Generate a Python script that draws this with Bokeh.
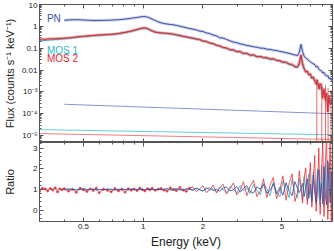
from bokeh.plotting import figure
from bokeh.layouts import column
from bokeh.models import FixedTicker, LogAxis, LinearAxis, Range1d, ColumnDataSource
from bokeh.core.properties import value
from bokeh.embed import file_html
from bokeh.resources import INLINE

nan = float("nan")

# ---------------- data ----------------
energy = [
    0.30, 0.31, 0.32, 0.33, 0.34, 0.35, 0.36, 0.37, 0.38, 0.39,
    0.40, 0.42, 0.44, 0.46, 0.48, 0.50, 0.52, 0.54, 0.56, 0.58,
    0.60, 0.63, 0.66, 0.69, 0.72, 0.75, 0.78, 0.81, 0.84, 0.87,
    0.90, 0.93, 0.96, 0.99, 1.02, 1.05, 1.08, 1.11, 1.15, 1.19,
    1.23, 1.27, 1.32, 1.37, 1.42, 1.47, 1.53, 1.59, 1.65, 1.71,
    1.78, 1.85, 1.92, 2.00, 2.08, 2.16, 2.25, 2.34, 2.43, 2.53,
    2.63, 2.74, 2.85, 2.96, 3.08, 3.20, 3.33, 3.46, 3.60, 3.74,
    3.89, 4.04, 4.20, 4.36, 4.53, 4.70, 4.88, 5.06, 5.25, 5.44,
    5.63, 5.82, 6.00, 6.12, 6.24, 6.36, 6.48, 6.60, 6.72, 6.84,
    6.96, 7.08, 7.20, 7.32, 7.44, 7.56, 7.68, 7.80, 7.92, 8.04,
    8.16, 8.28, 8.40, 8.52, 8.64, 8.76, 8.88, 8.98,
]

pn_flux = [
    nan, nan, nan, nan, nan, nan, nan, nan, nan, nan,
    1.90, 1.95, 2.00, 2.02, 1.98, 1.95, 1.92, 1.88, 1.86, 1.85,
    1.86, 1.88, 1.90, 1.93, 1.97, 2.02, 2.08, 2.15, 2.24, 2.35,
    2.45, 2.55, 2.68, 2.78, 2.80, 2.65, 2.40, 2.15, 1.85, 1.62,
    1.45, 1.35, 1.28, 1.22, 1.18, 1.10, 1.02, 0.93, 0.86, 0.80,
    0.74, 0.69, 0.61, 0.58, 0.50, 0.47, 0.40, 0.37, 0.30, 0.29,
    0.25, 0.218, 0.19, 0.178, 0.158, 0.148, 0.133, 0.127, 0.115, 0.111,
    0.101, 0.099, 0.090, 0.088, 0.081, 0.078, 0.071, 0.068, 0.062, 0.058,
    0.053, 0.049, 0.046, 0.064, 0.15, 0.070, 0.043, 0.035, 0.031, 0.027,
    0.024, 0.021, 0.019, 0.018, 0.0135, 0.015, 0.0108, 0.0098, 0.0092, 0.0072,
    0.0078, 0.0058, 0.0052, 0.0057, 0.0040, 0.0043, 0.0034, 0.0041,
]

mos1_flux = [
    0.22, 0.225, 0.23, 0.235, 0.24, 0.245, 0.25, 0.255, 0.26, 0.265,
    0.27, 0.285, 0.30, 0.315, 0.33, 0.34, 0.355, 0.365, 0.375, 0.385,
    0.395, 0.405, 0.415, 0.425, 0.44, 0.46, 0.49, 0.52, 0.56, 0.60,
    0.65, 0.70, 0.76, 0.80, 0.82, 0.77, 0.68, 0.60, 0.54, 0.51,
    0.49, 0.48, 0.47, 0.45, 0.43, 0.40, 0.37, 0.345, 0.325, 0.30,
    0.28, 0.26, 0.245, 0.21, 0.20, 0.172, 0.158, 0.135, 0.124, 0.106,
    0.10, 0.083, 0.081, 0.069, 0.068, 0.056, 0.057, 0.047, 0.048, 0.040,
    0.041, 0.036, 0.035, 0.031, 0.032, 0.027, 0.026, 0.022, 0.022, 0.018,
    0.017, 0.0135, 0.014, 0.019, 0.045, 0.019, 0.011, 0.0085, 0.0085, 0.0062,
    0.006, 0.0042, 0.0047, 0.0032, 0.0033, 0.002, 0.0024, 0.0014, 0.0018, 0.0008,
    0.001, 0.0005, 0.0008, 0.0003, 0.0005, 0.0003, 0.0004, 0.0003,
]

mos2_flux = [
    0.25, 0.26, 0.255, 0.265, 0.27, 0.268, 0.275, 0.28, 0.278, 0.285,
    0.29, 0.30, 0.31, 0.325, 0.34, 0.35, 0.365, 0.375, 0.385, 0.395,
    0.405, 0.415, 0.425, 0.435, 0.45, 0.47, 0.50, 0.53, 0.57, 0.61,
    0.66, 0.72, 0.78, 0.83, 0.85, 0.80, 0.70, 0.62, 0.55, 0.52,
    0.50, 0.49, 0.48, 0.46, 0.44, 0.41, 0.38, 0.35, 0.33, 0.31,
    0.29, 0.265, 0.25, 0.215, 0.205, 0.175, 0.162, 0.137, 0.128, 0.108,
    0.102, 0.085, 0.084, 0.070, 0.070, 0.058, 0.059, 0.048, 0.050, 0.041,
    0.042, 0.037, 0.037, 0.032, 0.033, 0.028, 0.027, 0.023, 0.023, 0.019,
    0.018, 0.0145, 0.0135, 0.021, 0.050, 0.019, 0.0115, 0.0078, 0.0092, 0.0058,
    0.0068, 0.0041, 0.0049, 0.0032, 0.0022, 0.0035, 0.0013, 0.0024, 0.0017, 0.0005,
    0.0014, 0.0004, 0.0009, 0.00012, 0.0007, 0.00025, 0.0003, 0.0005,
]

pn_ratio = [
    nan, nan, nan, nan, nan, nan, nan, nan, nan, nan,
    0.98, 1.03, 1.01, 0.97, 1.02, 1.04, 0.99, 1.00, 1.03, 0.98,
    1.00, 0.98, 1.02, 1.01, 0.97, 1.00, 1.03, 0.99, 0.98, 1.02,
    1.01, 0.99, 1.02, 1.00, 0.98, 1.01, 1.03, 0.99, 1.00, 1.02,
    0.98, 1.01, 1.04, 0.99, 0.97, 1.03, 1.00, 0.96, 1.05, 1.01,
    0.97, 1.06, 0.99, 0.94, 1.04, 1.08, 0.95, 1.02, 0.91, 1.07,
    1.12, 0.93, 0.98, 1.15, 0.87, 1.05, 1.18, 0.90, 0.84, 1.13,
    1.02, 1.24, 0.83, 0.95, 1.28, 0.79, 1.10, 0.72, 1.33, 0.92,
    0.70, 1.38, 1.05, 0.85, 1.02, 1.30, 0.66, 1.15, 1.52, 0.58,
    1.25, 0.45, 1.70, 0.88, 0.38, 1.60, 1.95, 0.52, 1.30, 0.30,
    2.10, 0.75, 0.25, 2.40, 1.20, 0.35, 1.85, 0.60,
]

mos1_ratio = [
    1.03, 1.02, 1.04, 1.02, 1.03, 1.04, 1.02, 1.03, 1.01, 1.02,
    1.00, 1.02, 0.99, 1.01, 0.98, 1.02, 1.00, 0.99, 1.01, 0.98,
    1.01, 0.97, 1.02, 0.99, 1.00, 1.02, 0.98, 1.01, 0.99, 1.02,
    0.99, 1.01, 0.98, 1.02, 1.00, 1.01, 0.99, 1.02, 0.98, 1.01,
    1.02, 0.98, 1.04, 0.97, 1.01, 1.05, 0.96, 1.02, 0.99, 1.04,
    0.95, 1.07, 1.00, 0.91, 1.10, 0.96, 1.04, 0.88, 1.12, 0.99,
    0.86, 1.15, 1.02, 0.82, 1.20, 0.93, 1.08, 0.79, 1.24, 0.97,
    0.74, 1.30, 1.05, 0.69, 1.36, 0.90, 0.64, 1.40, 1.10, 0.60,
    1.48, 0.85, 0.58, 1.52, 1.05, 0.50, 1.62, 1.00, 0.44, 1.75,
    0.95, 0.36, 1.85, 1.20, 0.30, 2.00, 0.70, 0.22, 2.15, 1.10,
    0.15, 2.25, 0.80, 0.12, 2.30, 1.00, 0.10, 2.00,
]

mos2_ratio = [
    0.90, 1.06, 1.02, 0.93, 1.05, 0.97, 1.08, 0.88, 1.03, 0.99,
    1.04, 0.92, 1.01, 0.86, 1.06, 0.98, 0.90, 1.03, 0.95, 1.07,
    0.84, 1.02, 0.96, 0.89, 1.05, 0.93, 1.01, 0.87, 1.04, 0.97,
    1.02, 0.95, 1.07, 0.99, 0.93, 1.04, 0.98, 1.06, 0.96, 1.01,
    1.05, 0.97, 0.92, 1.08, 1.00, 0.94, 1.10, 0.97, 0.91, 1.06,
    1.13, 0.90, 1.02, 1.18, 0.85, 0.97, 1.21, 0.83, 1.08, 1.25,
    0.78, 1.05, 1.32, 0.74, 0.96, 1.38, 0.70, 1.15, 1.44, 0.66,
    0.92, 1.52, 0.61, 1.20, 1.58, 0.55, 0.98, 1.66, 0.48, 1.30,
    1.75, 0.42, 0.88, 1.90, 1.15, 0.35, 1.60, 2.05, 0.28, 1.20,
    2.30, 0.15, 1.40, 2.65, -0.05, 0.90, 3.00, -0.20, 1.70, 3.40,
    -0.30, 2.20, 3.70, -0.45, 1.10, 3.60, -0.55, 3.50,
]

# background model lines (power laws, two end points each)
pn_bkg_energy = [0.40, 9.0]
pn_bkg = [2.7e-4, 1.0e-4]
mos_bkg_energy = [0.30, 9.0]
mos1_bkg = [1.87e-5, 1.08e-5]
mos2_bkg = [1.23e-5, 6.6e-6]

# MOS 2 channels whose lower error bar reaches zero
drop_energy = [7.50, 7.95, 8.30, 8.55, 8.85]
drop_top = [0.004, 0.0025, 0.002, 0.0015, 0.0012]
drop_bottom = [1e-9, 1e-9, 1e-9, 1e-9, 1e-9]

series_names = ["PN", "MOS 1", "MOS 2"]
legend_energy = [0.327, 0.327, 0.327]
legend_flux = [2.3, 0.081, 0.032]

flux_ticks = [1e-5, 1e-4, 1e-3, 0.01, 0.1, 1.0, 10.0]
flux_tick_labels = ["10⁻⁵", "10⁻⁴", "10⁻³", "0.01", "0.1", "1", "10"]
ratio_ticks = [0, 1, 2, 3]
energy_ticks = [0.5, 1, 2, 5]
energy_tick_labels = ["0.5", "1", "2", "5"]

# ---------------- styling ----------------
PN_C = "#3b4ea6"
M1_C = "#2bb8c8"
M2_C = "#e8262e"
AX_C = "#555555"
FONT = "Liberation Sans"

flux_minor = [m * 10.0 ** k for k in range(-6, 1) for m in range(2, 10)]
ratio_minor = [v / 5.0 for v in range(-3, 17) if v % 5 != 0]
energy_minor = [0.3, 0.4, 0.6, 0.7, 0.8, 0.9, 3, 4, 6, 7, 8, 9]

x_rng = Range1d(0.3, 9.0)


def style_axis(ax, ticker, show=True, overrides=None):
    ax.ticker = ticker
    ax.major_tick_in = 4
    ax.major_tick_out = 0
    ax.minor_tick_in = 2
    ax.minor_tick_out = 0
    ax.axis_line_color = AX_C
    ax.major_tick_line_color = AX_C
    ax.minor_tick_line_color = AX_C
    ax.major_label_text_font = FONT
    ax.major_label_text_color = "#222222"
    ax.axis_label_text_font = FONT
    ax.axis_label_text_font_style = "normal"
    ax.axis_label_text_color = "#222222"
    if show:
        ax.major_label_text_font_size = "8px"
        ax.major_label_standoff = 2
        if overrides:
            ax.major_label_overrides = overrides
    else:
        ax.major_label_text_font_size = "1px"
        ax.major_label_text_alpha = 0
        ax.major_label_standoff = 0


# ---------------- top panel: flux ----------------
p1 = figure(width=334, height=142, x_axis_type="log", y_axis_type="log",
            x_range=x_rng, y_range=Range1d(4.8e-6, 10.0),
            output_backend="svg", toolbar_location=None,
            min_border_left=35, min_border_right=2, min_border_top=4,
            min_border_bottom=0)
p1.grid.visible = False
p1.outline_line_color = AX_C

fx_ticker = FixedTicker(ticks=flux_ticks, minor_ticks=flux_minor)
e_ticker = FixedTicker(ticks=energy_ticks, minor_ticks=energy_minor)

style_axis(p1.yaxis[0], fx_ticker, True,
           dict(zip(flux_ticks, flux_tick_labels)))
p1.yaxis[0].axis_label = "Flux (counts s⁻¹ keV⁻¹)"
p1.yaxis[0].axis_label_text_font_size = "11px"
p1.yaxis[0].axis_label_standoff = 3
style_axis(p1.xaxis[0], e_ticker, False)

ax_r = LogAxis()
style_axis(ax_r, fx_ticker, False)
p1.add_layout(ax_r, "right")
ax_t = LogAxis()
style_axis(ax_t, e_ticker, False)
p1.add_layout(ax_t, "above")

p1.line(pn_bkg_energy, pn_bkg, color=PN_C, alpha=0.6, line_width=1)
p1.line(mos_bkg_energy, mos1_bkg, color=M1_C, alpha=0.7, line_width=1)
p1.line(mos_bkg_energy, mos2_bkg, color=M2_C, alpha=0.6, line_width=1)

p1.segment(drop_energy, drop_top, drop_energy, drop_bottom,
           color=M2_C, alpha=0.7, line_width=1)
# light halo standing in for the error bars, then the data line
p1.line(energy, mos1_flux, color=M1_C, line_width=3, alpha=0.3)
p1.line(energy, mos1_flux, color=M1_C, line_width=1)
p1.line(energy, mos2_flux, color=M2_C, line_width=3, alpha=0.3)
p1.line(energy, mos2_flux, color=M2_C, line_width=1)
p1.line(energy, pn_flux, color=PN_C, line_width=3, alpha=0.25)
p1.line(energy, pn_flux, color=PN_C, line_width=1)

legend_src = ColumnDataSource(dict(x=legend_energy, y=legend_flux,
                                   name=series_names,
                                   color=[PN_C, M1_C, M2_C]))
p1.text(x="x", y="y", text="name", text_color="color", source=legend_src,
        text_font=value(FONT), text_font_size="10px",
        text_baseline="middle", text_align="left")

# ---------------- bottom panel: ratio ----------------
p2 = figure(width=334, height=109, x_axis_type="log",
            x_range=x_rng, y_range=Range1d(-0.545, 3.27),
            output_backend="svg", toolbar_location=None,
            min_border_left=35, min_border_right=2, min_border_top=0,
            min_border_bottom=0)
p2.grid.visible = False
p2.outline_line_color = AX_C

r_ticker = FixedTicker(ticks=ratio_ticks, minor_ticks=ratio_minor)
style_axis(p2.yaxis[0], r_ticker, True)
p2.yaxis[0].axis_label = "Ratio"
p2.yaxis[0].axis_label_text_font_size = "11px"
p2.yaxis[0].axis_label_standoff = 14
style_axis(p2.xaxis[0], e_ticker, True,
           dict(zip(energy_ticks, energy_tick_labels)))
p2.xaxis[0].axis_label = "Energy (keV)"
p2.xaxis[0].axis_label_text_font_size = "12px"
p2.xaxis[0].axis_label_standoff = 3

ax_r2 = LinearAxis()
style_axis(ax_r2, r_ticker, False)
p2.add_layout(ax_r2, "right")
ax_t2 = LogAxis()
style_axis(ax_t2, e_ticker, False)
p2.add_layout(ax_t2, "above")

p2.line(energy, mos1_ratio, color=M1_C, line_width=1, alpha=0.8)
p2.line(energy, mos2_ratio, color=M2_C, line_width=1, alpha=0.75)
p2.scatter(energy[:50], mos2_ratio[:50], color=M2_C, size=2, alpha=0.7)
p2.line(energy, pn_ratio, color=PN_C, line_width=1, alpha=0.85)

layout = column(p1, p2, spacing=0)

with open("out.html", "w") as f:
    f.write(file_html(layout, INLINE))
